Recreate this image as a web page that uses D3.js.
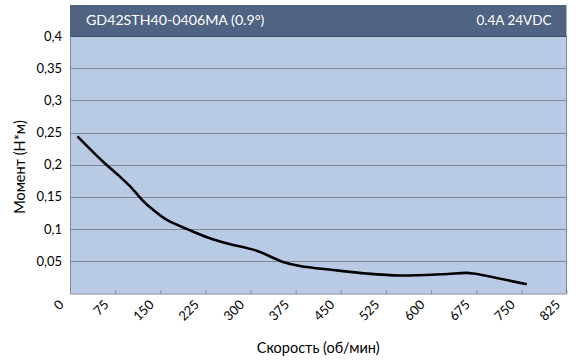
<!DOCTYPE html>
<html><head><meta charset="utf-8">
<script src="https://cdn.jsdelivr.net/npm/d3@7"></script>
<style>body{margin:0;background:#fff}svg{display:block}text{font-family:Lato,"Open Sans",sans-serif}</style>
</head><body>
<svg id="c" width="582" height="360"></svg>
<script>
const speed  = [14, 55, 80, 103, 119, 133, 161, 195, 230, 260, 310, 354, 382, 437, 493, 548, 620, 659, 670, 757];
const torque = [0.2426, 0.2047, 0.184, 0.1634, 0.1463, 0.1339, 0.1142, 0.100, 0.0865, 0.078, 0.0665, 0.049, 0.0427, 0.0365, 0.031, 0.028, 0.030, 0.032, 0.031, 0.0148];
const xTicks = [0,75,150,225,300,375,450,525,600,675,750,825];
const yTicks = [0.05,0.1,0.15,0.2,0.25,0.3,0.35,0.4];
const title = "GD42STH40-0406MA (0.9°)";
const subtitle = "0.4A 24VDC";
const xTitle = "Скорость (об/мин)";
const yTitle = "Момент (Н*м)";

const svg = d3.select("#c");
const L=70, R=566.5, T=36, B=293.5;
const x = d3.scaleLinear().domain([0,825]).range([L,R]);
const y = d3.scaleLinear().domain([0,0.4]).range([B,T]);

// header
svg.append("rect").attr("x",L).attr("y",5).attr("width",R-L).attr("height",T-5).attr("fill","#4f6382");
svg.append("text").attr("x",L+16).attr("y",25).attr("fill","#fff").attr("font-size",14.2).text(title);
svg.append("text").attr("x",R-15).attr("y",25).attr("fill","#fff").attr("font-size",13.5).attr("text-anchor","end").text(subtitle);

// plot bg
svg.append("rect").attr("x",L).attr("y",T).attr("width",R-L).attr("height",B-T).attr("fill","#b9cae4");

// gridlines
svg.append("g").selectAll("line").data(yTicks.slice(0,-1)).join("line")
  .attr("x1",L).attr("x2",R).attr("y1",d=>Math.round(y(d))+0.5).attr("y2",d=>Math.round(y(d))+0.5)
  .attr("stroke","#7d8898").attr("stroke-width",1);
svg.append("line").attr("x1",L).attr("x2",R).attr("y1",T+0.5).attr("y2",T+0.5).attr("stroke","#3b4d66").attr("stroke-width",1);
// right border
svg.append("line").attr("x1",R).attr("x2",R).attr("y1",T).attr("y2",B).attr("stroke","#7d8898");
// left axis line
svg.append("line").attr("x1",L+0.5).attr("x2",L+0.5).attr("y1",T).attr("y2",B).attr("stroke","#7d8898");

// y labels
svg.append("g").selectAll("text").data(yTicks).join("text")
  .attr("x",62).attr("y",d=>y(d)).attr("dy","0.35em").attr("text-anchor","end")
  .attr("font-size",13).attr("fill","#000").text(d=>String(d).replace(".",","));

// x axis
const xa = svg.append("g").attr("transform",`translate(0,${B})`)
  .call(d3.axisBottom(x).tickValues(xTicks).tickSize(-3).tickSizeOuter(0).tickFormat(d3.format("d")));
xa.select(".domain").attr("stroke","#7d8898");
xa.selectAll(".tick line").attr("stroke","#7d8898");
xa.selectAll(".tick text").attr("font-size",13).attr("fill","#000")
  .attr("font-family","Lato,'Open Sans',sans-serif")
  .attr("text-anchor","end").attr("dy",null).attr("y",0)
  .attr("transform","translate(-6,12) rotate(-45)");

// line
const line = d3.line().x((d,i)=>x(speed[i])).y(d=>y(d)).curve(d3.curveCatmullRom.alpha(0.5));
svg.append("path").datum(torque).attr("d",line).attr("fill","none").attr("stroke","#000").attr("stroke-width",2.6).attr("stroke-linecap","square");

// titles
svg.append("text").attr("x",(L+R)/2).attr("y",353).attr("text-anchor","middle").attr("font-size",14.5).text(xTitle);
svg.append("text").attr("transform",`translate(25,167) rotate(-90)`).attr("text-anchor","middle").attr("font-size",14.5).text(yTitle);
</script>
</body></html>
